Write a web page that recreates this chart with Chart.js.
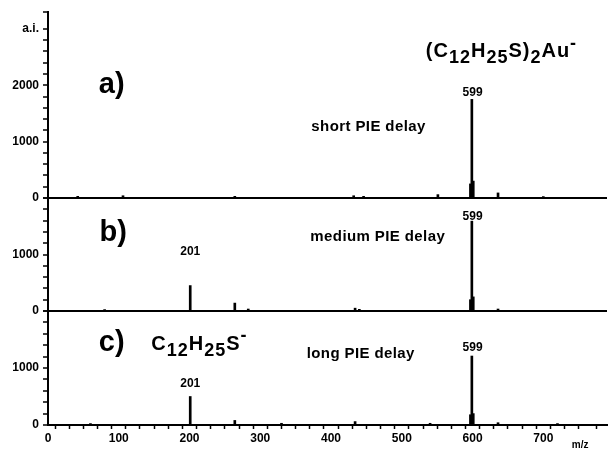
<!DOCTYPE html>
<html>
<head>
<meta charset="utf-8">
<script src="https://cdn.jsdelivr.net/npm/chart.js@4/dist/chart.umd.min.js"></script>
<style>
  html, body { margin: 0; padding: 0; background: #fff; }
  canvas { display: block; }
</style>
</head>
<body>
<canvas id="spec" width="609" height="449"></canvas>
<script>
// sticks: m/z and intensity (a.i.)
const mzA  = [42, 106, 264, 432, 446, 551, 597, 599, 601, 636, 700];
const intA = [30, 40, 30, 40, 30, 60, 250, 1750, 300, 90, 25];
const mzB  = [80, 201, 264, 283, 434, 440, 597, 599, 601, 636];
const intB = [25, 450, 140, 35, 50, 30, 200, 1590, 250, 35];
const mzC  = [60, 201, 264, 330, 434, 540, 597, 599, 601, 636, 720];
const intC = [25, 500, 80, 30, 60, 30, 180, 1210, 200, 40, 25];

// tick settings
const xMax = 790;
const xLabelled = [0, 100, 200, 300, 400, 500, 600, 700];
const yLabelled = [0, 1000, 2000];

const FONT = '"Liberation Sans", Arial, sans-serif';

function toPoints(mz, ints) {
    return mz.map((m, i) => ({ x: m, y: ints[i] }));
}

// panel captions and peak labels, placed in data coordinates
const notes = [
    { axis: 'ya', mz: 90, v: 2000, text: 'a)', size: 29 },
    { axis: 'yb', mz: 92, v: 1380, text: 'b)', size: 29 },
    { axis: 'yc', mz: 90, v: 1430, text: 'c)', size: 29 },
    { axis: 'ya', mz: 600, v: 1860, text: '599', size: 12 },
    { axis: 'yb', mz: 600, v: 1670, text: '599', size: 12 },
    { axis: 'yb', mz: 201, v: 1050, text: '201', size: 12 },
    { axis: 'yc', mz: 600, v: 1350, text: '599', size: 12 },
    { axis: 'yc', mz: 201, v: 720, text: '201', size: 12 },
    { axis: 'ya', mz: 453, v: 1260, text: 'short PIE delay', size: 15, sp: '0.4px' },
    { axis: 'yb', mz: 466, v: 1310, text: 'medium PIE delay', size: 15, sp: '0.4px' },
    { axis: 'yc', mz: 442, v: 1240, text: 'long PIE delay', size: 15, sp: '0.4px' }
];

// formulas with sub/superscripts
const formulaA = [['(C', 0], ['12', 1], ['H', 0], ['25', 1], ['S)', 0], ['2', 1], ['Au', 0], ['-', -1]];
const formulaC = [['C', 0], ['12', 1], ['H', 0], ['25', 1], ['S', 0], ['-', -1]];

function drawFormula(ctx, parts, x, y, size) {
    ctx.textAlign = 'left';
    ctx.textBaseline = 'alphabetic';
    ctx.letterSpacing = '1px';
    parts.forEach(([t, s]) => {
        const fs = s === 0 ? size : Math.round(size * 0.9);
        ctx.font = 'bold ' + fs + 'px ' + FONT;
        const dy = s === 1 ? size * 0.3 : (s === -1 ? -size * 0.42 : 0);
        ctx.fillText(t, x, y + dy);
        x += ctx.measureText(t).width;
    });
    ctx.letterSpacing = '0px';
}

const textPlugin = {
    id: 'texts',
    afterDraw(chart) {
        const ctx = chart.ctx;
        const xs = chart.scales.x;
        ctx.save();
        ctx.fillStyle = '#000';
        notes.forEach(n => {
            ctx.font = 'bold ' + n.size + 'px ' + FONT;
            ctx.letterSpacing = n.sp || '0px';
            ctx.textAlign = 'center';
            ctx.textBaseline = 'middle';
            ctx.fillText(n.text, xs.getPixelForValue(n.mz), chart.scales[n.axis].getPixelForValue(n.v));
        });
        ctx.letterSpacing = '0px';
        drawFormula(ctx, formulaA, xs.getPixelForValue(534), chart.scales.ya.getPixelForValue(2500), 20);
        drawFormula(ctx, formulaC, xs.getPixelForValue(146), chart.scales.yc.getPixelForValue(1320), 20);
        ctx.font = 'bold 10px ' + FONT;
        ctx.textAlign = 'center';
        ctx.textBaseline = 'middle';
        ctx.fillText('m/z', xs.getPixelForValue(752), chart.chartArea.bottom + 20);
        ctx.restore();
    }
};

function yAxis(max, weight, topLabel) {
    return {
        type: 'linear',
        position: 'left',
        stack: 'panels',
        stackWeight: weight,
        min: 0,
        max: max,
        afterFit: s => { s.width = 48; },
        border: { display: true, color: '#000', width: 2 },
        grid: {
            drawOnChartArea: true,
            color: c => (c.tick && c.tick.value === 0) ? '#000' : 'rgba(0,0,0,0)',
            lineWidth: c => (c.tick && c.tick.value === 0) ? 2 : 0,
            tickColor: '#000',
            tickWidth: 1.5,
            tickLength: 5
        },
        ticks: {
            stepSize: 200,
            autoSkip: false,
            padding: 4,
            color: '#000',
            font: { family: FONT, size: 12, weight: 'bold' },
            callback: v => {
                if (topLabel && v === 3000) return 'a.i.';
                return (yLabelled.includes(v) && v < max) ? v : '';
            }
        }
    };
}

function stickSet(mz, ints, axis) {
    return {
        data: toPoints(mz, ints),
        yAxisID: axis,
        backgroundColor: '#000',
        borderWidth: 0,
        barThickness: 2,
        grouped: false
    };
}

new Chart(document.getElementById('spec'), {
    type: 'bar',
    data: {
        datasets: [
            stickSet(mzA, intA, 'ya'),
            stickSet(mzB, intB, 'yb'),
            stickSet(mzC, intC, 'yc')
        ]
    },
    options: {
        responsive: false,
        animation: false,
        layout: { padding: { top: 12, right: 0, left: 0, bottom: 0 } },
        plugins: { legend: { display: false }, tooltip: { enabled: false } },
        scales: {
            x: {
                type: 'linear',
                min: 0,
                max: xMax,
                offset: false,
                afterFit: s => { s.height = 24; },
                border: { display: true, color: '#000', width: 2 },
                grid: { drawOnChartArea: false, tickColor: '#000', tickWidth: 1.5, tickLength: 4 },
                ticks: {
                    stepSize: 20,
                    autoSkip: false,
                    maxRotation: 0,
                    padding: 2,
                    color: '#000',
                    font: { family: FONT, size: 12, weight: 'bold' },
                    callback: v => xLabelled.includes(v) ? v : ''
                }
            },
            // stacked panels are laid out bottom-up, so c) comes first
            yc: yAxis(2000, 114, false),
            yb: yAxis(2000, 113, false),
            ya: yAxis(3300, 186, true)
        }
    },
    plugins: [textPlugin]
});
</script>
</body>
</html>
